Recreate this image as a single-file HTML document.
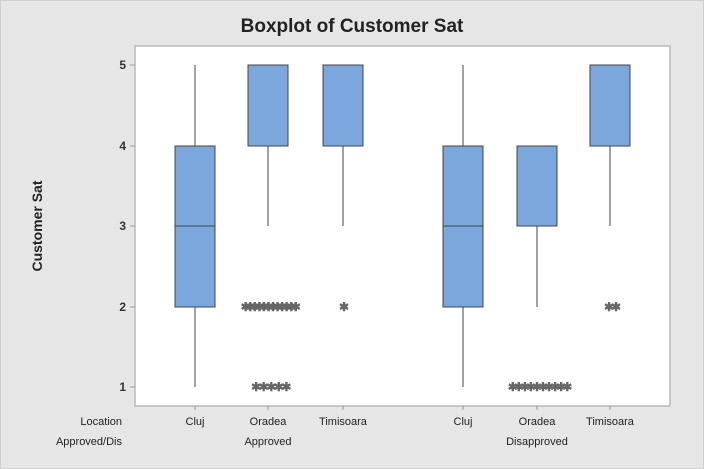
<!DOCTYPE html><html><head><style>body{margin:0;background:#e6e6e6}svg{display:block}</style></head><body>
<svg width="704" height="469" xmlns="http://www.w3.org/2000/svg" font-family="Liberation Sans, sans-serif">
<rect x="0.5" y="0.5" width="703" height="468" fill="#e6e6e6" stroke="#cfcfcf"/>
<text x="352" y="32" font-size="19" font-weight="bold" text-anchor="middle" fill="#222">Boxplot of Customer Sat</text>
<rect x="135" y="46" width="535" height="360" fill="#fff" stroke="#b8b8b8" stroke-width="1.5"/>
<g font-size="12" font-weight="bold" fill="#333" text-anchor="end">
<text x="126" y="69">5</text><text x="126" y="150">4</text><text x="126" y="230">3</text><text x="126" y="311">2</text><text x="126" y="391">1</text></g>
<g stroke="#999"><line x1="130" x2="135" y1="65" y2="65"/><line x1="130" x2="135" y1="146" y2="146"/><line x1="130" x2="135" y1="226" y2="226"/><line x1="130" x2="135" y1="307" y2="307"/><line x1="130" x2="135" y1="387" y2="387"/>
<line x1="195" x2="195" y1="406" y2="410"/><line x1="268" x2="268" y1="406" y2="410"/><line x1="343" x2="343" y1="406" y2="410"/><line x1="463" x2="463" y1="406" y2="410"/><line x1="537" x2="537" y1="406" y2="410"/><line x1="610" x2="610" y1="406" y2="410"/></g>
<text x="42" y="226" font-size="14" font-weight="bold" fill="#222" text-anchor="middle" transform="rotate(-90 42 226)">Customer Sat</text>
<g font-size="11" fill="#222" text-anchor="middle">
<text x="195" y="425">Cluj</text><text x="268" y="425">Oradea</text><text x="343" y="425">Timisoara</text>
<text x="463" y="425">Cluj</text><text x="537" y="425">Oradea</text><text x="610" y="425">Timisoara</text>
<text x="268" y="445">Approved</text><text x="537" y="445">Disapproved</text>
<text x="122" y="425" text-anchor="end">Location</text><text x="122" y="445" text-anchor="end">Approved/Dis</text></g>
<g stroke="#444" stroke-width="1" fill="#7ba7dc">
<line x1="195" x2="195" y1="65" y2="387"/><rect x="175" y="146" width="40" height="161"/><line x1="175" x2="215" y1="226" y2="226"/>
<line x1="268" x2="268" y1="146" y2="226"/><rect x="248" y="65" width="40" height="81"/>
<line x1="343" x2="343" y1="146" y2="226"/><rect x="323" y="65" width="40" height="81"/>
<line x1="463" x2="463" y1="65" y2="387"/><rect x="443" y="146" width="40" height="161"/><line x1="443" x2="483" y1="226" y2="226"/>
<line x1="537" x2="537" y1="146" y2="307"/><rect x="517" y="146" width="40" height="80"/>
<line x1="610" x2="610" y1="146" y2="226"/><rect x="590" y="65" width="40" height="81"/>
</g>
<g font-size="12" fill="#666" text-anchor="middle" font-weight="bold">
<text x="268" y="311" letter-spacing="-5.5">✱✱✱✱✱✱✱✱✱✱✱✱</text>
<text x="270" y="391" letter-spacing="-2.5">✱✱✱✱✱</text>
<text x="344" y="311">✱</text>
<text x="538" y="391" letter-spacing="-4">✱✱✱✱✱✱✱✱✱✱</text>
<text x="611" y="311" letter-spacing="-3">✱✱</text>
</g>
</svg></body></html>
